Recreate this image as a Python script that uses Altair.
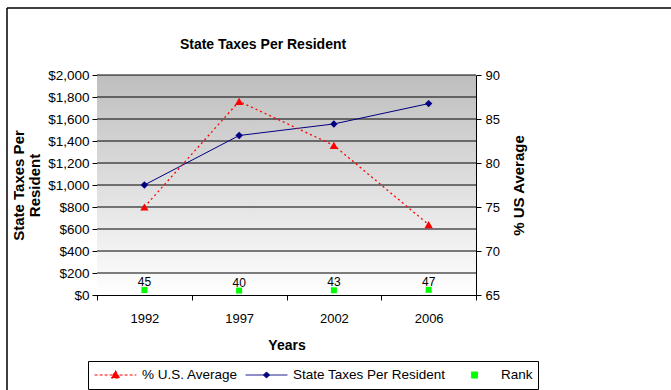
import altair as alt
import pandas as pd

# ---- data -------------------------------------------------------------
years = ["1992", "1997", "2002", "2006"]
taxes_per_resident = [1000, 1450, 1555, 1740]
pct_us_average = [75, 87, 82, 73]
state_rank = [45, 40, 43, 47]

tax_ticks = list(range(0, 2001, 200))
pct_ticks = [65, 70, 75, 80, 85, 90]

series_names = ["% U.S. Average", "State Taxes Per Resident", "Rank"]
series_colors = ["#ff0000", "#000080", "#00ff00"]
chart_title = "State Taxes Per Resident"

df = pd.DataFrame({
    "Year": years,
    "Taxes": taxes_per_resident,
    "Pct": pct_us_average,
    "Rank": state_rank,
})
grid_df = pd.DataFrame({"v": tax_ticks[1:]})
one_row = pd.DataFrame({"k": [0]})
title_df = pd.DataFrame({"t": [chart_title]})
legend_df = pd.DataFrame({"Series": pd.Series([], dtype=str)})

# ---- styling ----------------------------------------------------------
W, H = 379, 220
FONT = "Liberation Sans"

# legend glyphs: a line segment with its marker on top
series_dashes = [[3, 2], [1, 0], [1, 0]]
series_symbols = [
    "M-0.95,0H0.95M0,-0.2L0.19,0.14H-0.19Z",
    "M-0.95,0H0.95M0,-0.14L0.14,0L0,0.14L-0.14,0Z",
    "M-0.14,-0.14H0.14V0.14H-0.14Z",
]

x_enc = alt.X(
    "Year:O",
    scale=alt.Scale(type="band", paddingInner=0, paddingOuter=0),
    axis=alt.Axis(
        title="Years", labelAngle=0, tickBand="extent", grid=False,
        domainColor="black", tickColor="black", tickSize=5,
        labelFont=FONT, labelFontSize=13, labelColor="black", labelPadding=12,
        titleFont=FONT, titleFontSize=14, titleFontWeight="bold",
        titleColor="black", titlePadding=13,
    ),
)

left_scale = alt.Scale(domain=[0, 2000], nice=False, zero=True)
left_axis = alt.Axis(
    values=tax_ticks, format="$,.0f", grid=False,
    domainColor="black", tickColor="black", tickSize=5,
    labelFont=FONT, labelFontSize=13.5, labelColor="black", labelPadding=3,
    title=["State Taxes Per", "Resident"], titleFont=FONT, titleFontSize=15,
    titleFontWeight="bold", titleColor="black", titleAngle=270,
    titleAlign="center", titleBaseline="middle", titleLineHeight=16,
    titleX=-79, titleY=H / 2,
)

right_scale = alt.Scale(domain=[65, 90], nice=False, zero=False)
right_axis = alt.Axis(
    values=pct_ticks, grid=False, orient="right",
    domainColor="black", tickColor="black", tickSize=5,
    labelFont=FONT, labelFontSize=13, labelColor="black", labelPadding=4,
    title="% US Average", titleFont=FONT, titleFontSize=15,
    titleFontWeight="bold", titleColor="black", titleAngle=270,
    titleAlign="center", titleBaseline="middle", titleX=42, titleY=H / 2,
)


def y_left(field):
    return alt.Y(field, scale=left_scale, axis=left_axis)


# ---- plot area background and gridlines -------------------------------
background = alt.Chart(one_row).mark_rect(
    fill=alt.LinearGradient(
        gradient="linear",
        stops=[alt.GradientStop(color="#bebebe", offset=0),
               alt.GradientStop(color="#ffffff", offset=1)],
        x1=0, x2=0, y1=0, y2=1,
    )
).encode(
    x=alt.value(0), x2=alt.value(W),
    y=alt.Y(datum=2000, scale=left_scale, axis=left_axis),
    y2=alt.Y2(datum=0),
)

gridlines = alt.Chart(grid_df).mark_rule(color="black", strokeWidth=1).encode(
    y=y_left("v:Q")
)

# outer chart frame (top and left edges)
frame_top = alt.Chart(one_row).mark_rule(color="black", strokeWidth=1.5).encode(
    x=alt.value(-90), x2=alt.value(W + 200), y=alt.value(-67)
)
frame_left = alt.Chart(one_row).mark_rule(color="black", strokeWidth=1.5).encode(
    x=alt.value(-90), y=alt.value(-67), y2=alt.value(H + 100)
)

# chart heading
heading = alt.Chart(title_df).mark_text(
    font=FONT, fontSize=14, fontWeight="bold", color="black",
    align="center", baseline="alphabetic",
).encode(x=alt.value(166), y=alt.value(-26), text="t:N")

# ---- series -----------------------------------------------------------
base = alt.Chart(df)

tax_line = base.mark_line(color="#000080", strokeWidth=1).encode(
    x=x_enc, y=y_left("Taxes:Q")
)
tax_pts = base.mark_point(
    shape="diamond", filled=True, size=55, color="#000080", opacity=1
).encode(x=x_enc, y=y_left("Taxes:Q"))

rank_pts = base.mark_square(size=36, color="#00ff00", opacity=1).encode(
    x=x_enc, y=y_left("Rank:Q")
)
rank_txt = base.mark_text(
    dy=-8, font=FONT, fontSize=12, color="black"
).encode(x=x_enc, y=y_left("Rank:Q"), text="Rank:Q")

legend_spec = alt.Legend(
    title=None, orient="none", legendX=-9, legendY=286, direction="horizontal",
    symbolSize=44 * 44, symbolStrokeWidth=1, symbolOpacity=1,
    labelFont=FONT, labelFontSize=13.5, labelColor="black", labelOffset=4,
    columnPadding=6, padding=5, clipHeight=18,
    strokeColor="black", fillColor="white",
)
legend_layer = alt.Chart(legend_df).mark_point(filled=True, opacity=1).encode(
    fill=alt.Fill("Series:N", scale=alt.Scale(domain=series_names, range=series_colors), legend=legend_spec),
    stroke=alt.Stroke("Series:N", scale=alt.Scale(domain=series_names, range=series_colors), legend=legend_spec),
    shape=alt.Shape("Series:N", scale=alt.Scale(domain=series_names, range=series_symbols), legend=legend_spec),
    strokeDash=alt.StrokeDash("Series:N", scale=alt.Scale(domain=series_names, range=series_dashes), legend=legend_spec),
)

left = alt.layer(
    background, gridlines, frame_top, frame_left, heading,
    tax_line, tax_pts, rank_pts, rank_txt, legend_layer,
)

pct_line = base.mark_line(color="#ff0000", strokeWidth=1.3, strokeDash=[2, 3]).encode(
    x=x_enc, y=alt.Y("Pct:Q", scale=right_scale, axis=right_axis)
)
pct_pts = base.mark_point(
    shape="triangle-up", filled=True, size=70, color="#ff0000", opacity=1
).encode(x=x_enc, y=alt.Y("Pct:Q", scale=right_scale, axis=right_axis))

right = alt.layer(pct_line, pct_pts)

chart = alt.layer(left, right).resolve_scale(y="independent").properties(
    width=W, height=H,
    autosize=alt.AutoSizeParams(type="none"),
    padding={"left": 97, "top": 75, "right": 195, "bottom": 95},
    background="white",
).configure_view(stroke=None)

chart.save("out.html", embed_options={"renderer": "svg", "actions": False})
